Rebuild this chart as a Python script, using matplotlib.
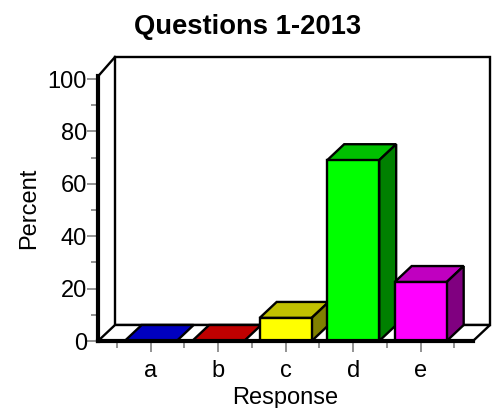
import matplotlib
matplotlib.use('Agg')
import matplotlib.pyplot as plt
from matplotlib.patches import Polygon

# Values
categories = ['a', 'b', 'c', 'd', 'e']
percent = [0, 0, 8.8, 69, 22.5]
front_colors = ['#0000ff', '#ff0000', '#ffff00', '#00ff00', '#ff00ff']
top_colors = ['#0000c0', '#c00000', '#c0c000', '#00c000', '#c000c0']
side_colors = ['#000080', '#800000', '#808000', '#008000', '#800080']
y_major = [0, 20, 40, 60, 80, 100]
y_minor = [10, 30, 50, 70, 90]

plt.rcParams['font.family'] = ['Liberation Sans', 'DejaVu Sans']

W, H = 496, 408
fig = plt.figure(figsize=(W / 100, H / 100), dpi=100)

# axes box is the front plane of the 3D chart, in pixels
left, right, top, bottom = 98, 473, 79, 341
ax = fig.add_axes([left / W, 1 - bottom / H, (right - left) / W, (bottom - top) / H])
ax.set_xlim(-0.78, 4.775)
ax.set_ylim(0, 100)

# depth of the fake 3D in data units
dx = 17 / 67.5
dy = 16 / 2.62
bar_w = 52 / 67.5
line = 1.7


def poly(pts, fc, lw=line, z=2):
    ax.add_patch(Polygon(pts, closed=True, fc=fc, ec='black', lw=lw,
                         joinstyle='miter', clip_on=False, zorder=z))


x0, x1 = ax.get_xlim()
ceil_front = 101
ceil_back = 108.4

# back wall and floor
poly([(x0 + dx, dy), (x0 + dx, ceil_back), (x1 + dx, ceil_back), (x1 + dx, dy)], 'white', z=1)
poly([(x0, 0), (x0 + dx, dy), (x1 + dx, dy), (x1, 0)], 'white', z=1)
ax.plot([x0, x0 + dx], [ceil_front, ceil_back], color='black', lw=line, clip_on=False, zorder=1)

# bars
for i, v in enumerate(percent):
    l, r = i - bar_w / 2, i + bar_w / 2
    poly([(l, v), (l + dx, v + dy), (r + dx, v + dy), (r, v)], top_colors[i], z=3 + i)
    if v > 0:
        poly([(r, 0), (r + dx, dy), (r + dx, v + dy), (r, v)], side_colors[i], z=3 + i)
        poly([(l, 0), (l, v), (r, v), (r, 0)], front_colors[i], z=3 + i)

# thick front axes
for s in ['top', 'right']:
    ax.spines[s].set_visible(False)
for s in ['left', 'bottom']:
    ax.spines[s].set_linewidth(3)
    ax.spines[s].set_zorder(20)
ax.spines['left'].set_bounds(0, ceil_front)
ax.patch.set_visible(False)

ax.set_xticks(range(len(categories)))
ax.set_xticklabels(categories)
ax.set_xticks([i + 0.5 for i in range(-1, len(categories))], minor=True)
ax.set_yticks(y_major)
ax.set_yticks(y_minor, minor=True)
ax.tick_params(axis='both', which='major', length=8, width=1.2, color='#808080',
               labelsize=17, pad=0)
ax.tick_params(axis='both', which='minor', length=5, width=1.2, color='#808080')
ax.tick_params(axis='x', which='major', pad=6)

fig.text(248 / W, 1 - 27 / H, 'Questions 1-2013', fontsize=19.7, fontweight='bold',
         ha='center', va='center')
fig.text(285 / W, 1 - 398 / H, 'Response', fontsize=17, ha='center', va='center')
fig.text(29 / W, 1 - 208 / H, 'Percent', fontsize=17, rotation=90, ha='center', va='center')

fig.savefig('out.png', dpi=100)
